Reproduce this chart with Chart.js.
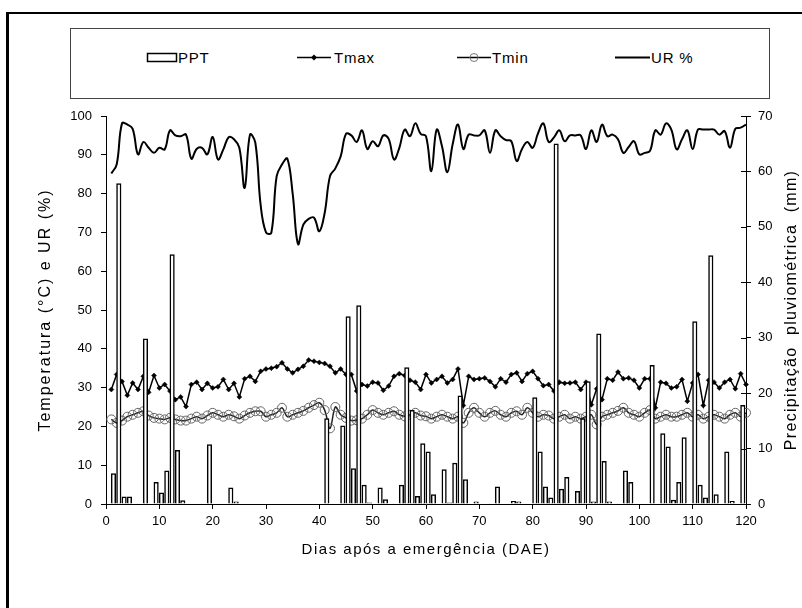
<!DOCTYPE html>
<html>
<head>
<meta charset="utf-8">
<script src="https://cdn.jsdelivr.net/npm/chart.js@4.4.1/dist/chart.umd.min.js"></script>
<style>
  html, body { margin: 0; padding: 0; background: #fff; }
  #wrap { position: relative; width: 802px; height: 608px; overflow: hidden; }
  #frame { position: absolute; left: 6px; top: 12px; width: 900px; height: 700px;
           border-left: 3px solid #000; border-top: 2px solid #000; }
  #legend { position: absolute; left: 70px; top: 28px; width: 700px; height: 71px;
            border: 1px solid #444; box-sizing: border-box; }
  .lt { position: absolute; top: 50px; font: 15px "Liberation Sans", Arial, sans-serif;
        letter-spacing: 0.8px; color: #000; line-height: 16px; }
  #legsvg { position: absolute; left: 0; top: 0; }
  canvas { position: absolute; left: 0; top: 0; }
</style>
</head>
<body>
<div id="wrap">
  <div id="frame"></div>
  <div id="legend"></div>
  <svg id="legsvg" width="802" height="110">
    <rect x="147.5" y="53.5" width="29" height="8" fill="#fff" stroke="#000" stroke-width="1.5"/>
    <line x1="297" y1="57.5" x2="331" y2="57.5" stroke="#000" stroke-width="1.5"/>
    <polygon points="314,54.5 317,57.5 314,60.5 311,57.5" fill="#000"/>
    <line x1="457" y1="57.5" x2="491" y2="57.5" stroke="#000" stroke-width="1.5"/>
    <circle cx="474" cy="57.5" r="4" fill="none" stroke="#777" stroke-width="1"/>
    <line x1="615" y1="57.5" x2="650" y2="57.5" stroke="#000" stroke-width="2"/>
  </svg>
  <span class="lt" style="left:178px">PPT</span>
  <span class="lt" style="left:334px">Tmax</span>
  <span class="lt" style="left:492px">Tmin</span>
  <span class="lt" style="left:651px">UR %</span>
  <canvas id="c" width="802" height="608"></canvas>
</div>
<script>
// ---- data ----
const days = [1,2,3,4,5,6,7,8,9,10,11,12,13,14,15,16,17,18,19,20,
  21,22,23,24,25,26,27,28,29,30,31,32,33,34,35,36,37,38,39,40,
  41,42,43,44,45,46,47,48,49,50,51,52,53,54,55,56,57,58,59,60,
  61,62,63,64,65,66,67,68,69,70,71,72,73,74,75,76,77,78,79,80,
  81,82,83,84,85,86,87,88,89,90,91,92,93,94,95,96,97,98,99,100,
  101,102,103,104,105,106,107,108,109,110,111,112,113,114,115,116,117,118,119,120];

const urValues = [85.2, 87.5, 98.1, 97.8, 96.7, 90.1, 93.3, 91.8, 90.5, 91.8,
  91.4, 96.3, 95.0, 94.8, 95.2, 89.0, 91.5, 91.8, 90.1, 94.6,
  88.8, 91.4, 94.5, 94.0, 91.8, 81.5, 95.2, 93.1, 77.0, 70.0,
  69.9, 84.5, 87.5, 89.0, 80.0, 67.0, 72.0, 73.5, 73.8, 70.3,
  75.0, 84.5, 86.5, 89.6, 95.4, 95.0, 93.3, 96.3, 91.5, 93.5,
  92.2, 95.0, 94.1, 88.8, 91.8, 96.5, 94.8, 98.1, 95.4, 94.8,
  85.8, 96.5, 92.2, 85.5, 92.7, 97.8, 91.5, 95.2, 95.0, 95.0,
  96.3, 90.5, 96.3, 94.8, 93.8, 93.5, 88.4, 91.5, 93.3, 91.8,
  95.5, 98.1, 93.3, 94.5, 96.3, 93.5, 95.0, 95.0, 95.0, 91.5,
  96.3, 93.3, 97.8, 94.8, 95.2, 94.0, 90.5, 92.0, 93.5, 90.1,
  90.5, 91.0, 96.3, 95.2, 98.1, 96.5, 91.4, 94.0, 96.3, 91.5,
  96.5, 96.5, 96.5, 96.5, 95.2, 96.1, 91.8, 96.7, 97.0, 97.8];

const tmaxValues = [29.5, 33.4, 31.6, 28.0, 31.2, 29.5, 32.9, 28.8, 33.1, 29.9,
  30.8, 29.1, 26.9, 27.6, 25.1, 30.8, 31.4, 29.5, 31.1, 29.9,
  30.2, 32.1, 29.5, 31.1, 27.6, 32.3, 32.9, 31.6, 34.2, 34.8,
  35.0, 35.4, 36.4, 34.8, 33.8, 34.7, 35.5, 37.1, 36.8, 36.5,
  36.2, 35.5, 33.8, 34.8, 33.4, 33.4, 29.1, 30.8, 30.4, 31.4,
  31.2, 29.3, 30.4, 32.9, 33.6, 33.1, 31.9, 31.4, 29.5, 33.4,
  31.2, 32.1, 32.9, 31.2, 32.1, 34.8, 25.4, 32.9, 32.1, 32.3,
  32.5, 31.6, 30.2, 32.3, 31.4, 33.4, 33.8, 31.6, 33.6, 34.2,
  32.3, 30.5, 30.8, 29.1, 31.4, 31.1, 31.2, 31.4, 29.5, 31.4,
  25.6, 29.7, 26.9, 32.3, 31.9, 34.0, 32.3, 32.5, 31.9, 29.9,
  32.3, 32.3, 24.8, 31.4, 31.1, 29.9, 30.2, 32.1, 26.5, 31.2,
  33.4, 25.4, 31.9, 31.4, 29.9, 31.4, 32.1, 29.7, 33.6, 30.8];

const tminValues = [21.8, 20.9, 21.5, 22.5, 23.0, 23.5, 23.9, 22.8, 22.2, 22.0,
  21.8, 22.2, 21.8, 21.5, 21.5, 22.0, 22.5, 22.0, 22.8, 23.5,
  23.0, 22.5, 23.0, 22.6, 22.0, 22.8, 23.5, 23.9, 23.9, 22.5,
  23.0, 23.5, 24.8, 22.5, 23.0, 23.5, 24.0, 24.8, 25.5, 26.1,
  24.2, 19.5, 25.0, 23.0, 22.2, 21.5, 21.6, 22.0, 23.0, 24.2,
  23.5, 23.0, 23.5, 23.9, 23.0, 22.6, 23.0, 23.5, 22.8, 22.6,
  22.0, 22.5, 23.0, 22.5, 22.0, 22.5, 20.9, 23.5, 24.8, 23.5,
  22.5, 23.5, 24.0, 23.0, 22.5, 23.5, 23.9, 23.0, 24.8, 23.5,
  22.5, 23.0, 22.8, 22.0, 22.5, 23.0, 22.0, 22.5, 22.0, 22.5,
  23.0, 20.5, 22.5, 23.0, 23.5, 24.0, 24.8, 23.5, 23.0, 22.5,
  23.5, 24.2, 22.0, 22.5, 23.0, 22.5, 22.5, 23.0, 23.5, 22.5,
  23.0, 22.0, 22.5, 23.0, 22.5, 22.0, 23.0, 23.5, 22.5, 23.5];

const pptDays = [1,2,3,4,7,9,10,11,12,13,14,19,23,24,
  41,44,45,46,47,48,49,51,52,55,56,57,58,59,60,61,63,64,65,66,67,69,73,76,77,
  80,81,82,83,84,85,86,88,89,90,91,92,93,94,97,98,
  102,104,105,106,107,108,110,111,112,113,114,116,117,119];
const pptValues = [5.5,57.8,1.3,1.3,29.8,3.9,2.0,6.0,45.0,9.7,0.6,10.7,2.9,0.4,
  15.4,14.1,33.8,6.4,35.8,3.4,0.2,2.9,0.8,3.4,24.6,16.9,1.4,10.9,9.4,1.7,6.2,0.2,7.4,19.5,4.4,0.4,3.1,0.5,0.4,
  19.2,9.4,3.1,1.1,65.0,2.7,4.8,2.3,15.4,22.1,0.4,30.7,7.7,0.4,6.0,3.9,
  25.0,12.7,10.3,0.7,3.9,12.0,32.9,3.4,1.1,44.8,1.7,9.4,0.5,17.8];

const xTicks = [0,10,20,30,40,50,60,70,80,90,100,110,120];
const yLeftTicks = [0,10,20,30,40,50,60,70,80,90,100];
const yRightTicks = [0,10,20,30,40,50,60,70];

const legendNames = ['PPT', 'Tmax', 'Tmin', 'UR %'];
const xTitle = 'Dias após a emergência (DAE)';
const yLeftTitle = 'Temperatura (°C) e UR (%)';
const yRightTitle = 'Precipitação  pluviométrica  (mm)';

// ---- build ----
const BAR_SHIFT = 0.4;
const pts = arr => days.map((d, i) => ({ x: d, y: arr[i] }));
const barPts = pptDays.map((d, i) => ({ x: d + BAR_SHIFT, y: pptValues[i] }));

const FONT = '"Liberation Sans", Arial, sans-serif';

const titlesPlugin = {
  id: 'titles',
  afterDraw(chart) {
    const ctx = chart.ctx, a = chart.chartArea;
    const cy = (a.top + a.bottom) / 2;
    ctx.save();
    ctx.fillStyle = '#000';
    ctx.textAlign = 'center';
    ctx.textBaseline = 'middle';
    ctx.font = '15px ' + FONT;
    if ('letterSpacing' in ctx) ctx.letterSpacing = '1.5px';
    ctx.fillText(xTitle, (a.left + a.right) / 2, 550);
    ctx.save();
    ctx.font = '16px ' + FONT;
    if ('letterSpacing' in ctx) ctx.letterSpacing = '2px';
    ctx.translate(46, cy);
    ctx.rotate(-Math.PI / 2);
    ctx.fillText(yLeftTitle, 0, 0);
    ctx.restore();
    ctx.save();
    ctx.font = '16px ' + FONT;
    if ('letterSpacing' in ctx) ctx.letterSpacing = '1.3px';
    ctx.translate(792, cy);
    ctx.rotate(-Math.PI / 2);
    ctx.fillText(yRightTitle, 0, 0);
    ctx.restore();
    // inner tick marks on the right axis (ticks cross the axis)
    const s = chart.scales.y2;
    ctx.strokeStyle = '#000';
    ctx.lineWidth = 1;
    s.ticks.forEach(t => {
      const y = Math.round(s.getPixelForValue(t.value)) + 0.5;
      ctx.beginPath();
      ctx.moveTo(a.right - 5, y);
      ctx.lineTo(a.right, y);
      ctx.stroke();
    });
    ctx.restore();
  }
};

new Chart(document.getElementById('c'), {
  type: 'bar',
  data: {
    datasets: [
      {
        type: 'bar', label: legendNames[0], data: barPts, yAxisID: 'y2', xAxisID: 'x',
        backgroundColor: '#fff', borderColor: '#000', borderWidth: 1.5,
        barThickness: 4.5, grouped: false, order: 0
      },
      {
        type: 'line', label: legendNames[1], data: pts(tmaxValues), yAxisID: 'y',
        borderColor: '#000', borderWidth: 1.5, tension: 0,
        pointStyle: 'rectRot', pointRadius: 2.5, pointBackgroundColor: '#000',
        pointBorderColor: '#000', pointBorderWidth: 0.5, clip: false, order: 2
      },
      {
        type: 'line', label: legendNames[2], data: pts(tminValues), yAxisID: 'y',
        borderColor: '#222', borderWidth: 1.5, tension: 0.35,
        pointStyle: 'circle', pointRadius: 4.5, pointBackgroundColor: 'rgba(0,0,0,0)',
        pointBorderColor: '#666', pointBorderWidth: 1, clip: false, order: 3
      },
      {
        type: 'line', label: legendNames[3], data: pts(urValues), yAxisID: 'y',
        borderColor: '#000', borderWidth: 2, tension: 0.4, pointRadius: 0,
        clip: false, order: 1
      }
    ]
  },
  options: {
    responsive: false,
    devicePixelRatio: 1,
    animation: false,
    layout: { padding: { top: 116, left: 0, right: 0, bottom: 0 } },
    plugins: { legend: { display: false }, tooltip: { enabled: false } },
    scales: {
      x: {
        type: 'linear', min: 0, max: 120, offset: false,
        afterFit: s => { s.height = 104; },
        afterBuildTicks: s => { s.ticks = xTicks.map(v => ({ value: v })); },
        ticks: { color: '#000', font: { size: 13, family: FONT }, padding: 5, maxRotation: 0 },
        grid: { drawOnChartArea: false, drawTicks: true, tickLength: 5, color: '#000', offset: false },
        border: { display: true, color: '#000', width: 1 }
      },
      y: {
        type: 'linear', position: 'left', min: 0, max: 100,
        afterFit: s => { s.width = 106; },
        afterBuildTicks: s => { s.ticks = yLeftTicks.map(v => ({ value: v })); },
        ticks: { color: '#000', font: { size: 13, family: FONT }, padding: 9 },
        grid: { drawOnChartArea: false, drawTicks: true, tickLength: 5, color: '#000' },
        border: { display: true, color: '#000', width: 1 }
      },
      y2: {
        type: 'linear', position: 'right', min: 0, max: 70,
        afterFit: s => { s.width = 56; },
        afterBuildTicks: s => { s.ticks = yRightTicks.map(v => ({ value: v })); },
        ticks: { color: '#000', font: { size: 13, family: FONT }, padding: 7 },
        grid: { drawOnChartArea: false, drawTicks: true, tickLength: 5, color: '#000' },
        border: { display: true, color: '#000', width: 1 }
      }
    }
  },
  plugins: [titlesPlugin]
});
</script>
</body>
</html>
